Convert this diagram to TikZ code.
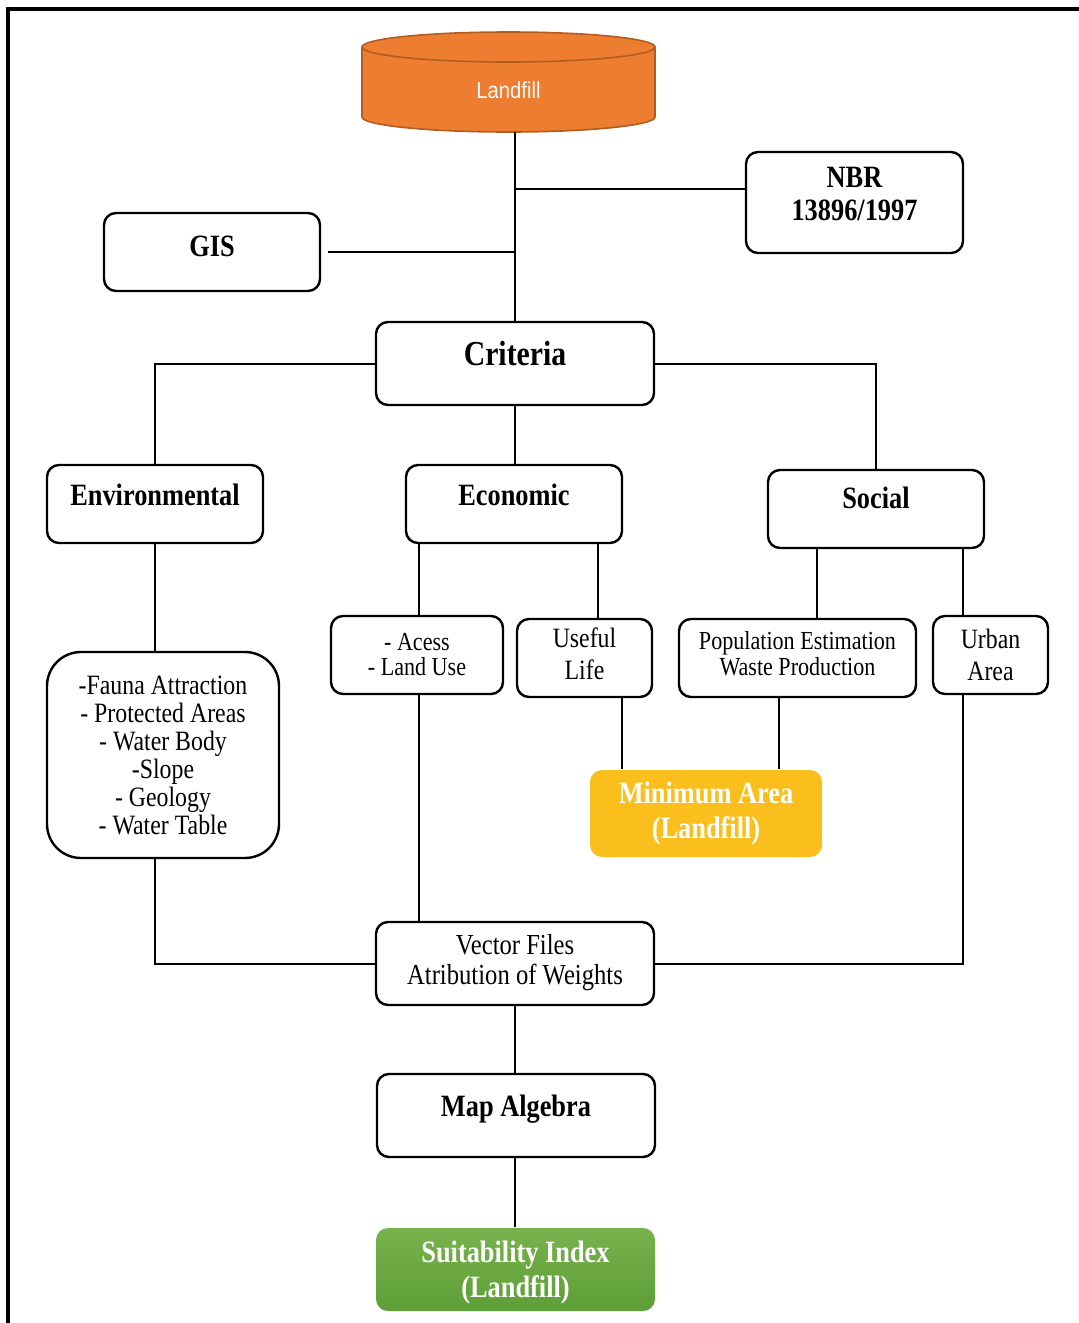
\documentclass[tikz,border=0pt]{standalone}
\usepackage{fontspec}
\setmainfont{Liberation Serif}[FakeStretch=0.85]
\newfontfamily\lfsans{Liberation Sans}[FakeStretch=0.88]
\usetikzlibrary{calc}
\definecolor{lforange}{HTML}{ED7D31}
\definecolor{lforangedk}{HTML}{B35C20}
\definecolor{minyellow}{HTML}{FBBF1D}
\definecolor{suitgreenA}{HTML}{78B24C}
\definecolor{suitgreenB}{HTML}{5E9E37}
\tikzset{
  box/.style={draw=black, line width=1.2pt, rounded corners=6pt, inner sep=0pt, align=center},
  hdr/.style={font=\fontsize{15.5}{16.5}\selectfont\bfseries},
  conn/.style={draw=black, line width=1pt},
  up/.style={text depth=#1},
}
\begin{document}
\begin{tikzpicture}[x=0.5pt, y=-0.5pt]
\useasboundingbox (0,0) rectangle (1079,1323);
% frame
\draw[line width=1.6pt] (8,1323) -- (8,9) -- (1079,9);

% landfill cylinder
\fill[lforange] (362,47) -- (362,117) arc[start angle=180, end angle=0, x radius=146.5, y radius=15] -- (655,47) -- cycle;
\fill[lforange] (508.5,47) ellipse[x radius=146.5, y radius=15];
\draw[lforangedk, line width=0.8pt] (362,47) -- (362,117) arc[start angle=180, end angle=0, x radius=146.5, y radius=15] -- (655,47);
\draw[lforangedk, line width=0.8pt] (508.5,47) ellipse[x radius=146.5, y radius=15];
\node[text=white, font=\lfsans\fontsize{11.5}{12}\selectfont] (landfill) at (508.5,90) {Landfill};
\coordinate (lfbot) at (514,132);

% boxes
\node[box, hdr, minimum width=108pt, minimum height=39pt, up=6pt] (gis) at (212,252) {GIS};
\node[box, hdr, minimum width=108.5pt, minimum height=50.5pt, up=9pt] (nbr) at (854.5,202.5) {NBR\\13896/1997};
\node[box, font=\fontsize{17.5}{18}\selectfont\bfseries, minimum width=139pt, minimum height=41.5pt, up=10pt] (crit) at (515,363.5) {Criteria};
\node[box, hdr, minimum width=108pt, minimum height=39pt, up=9pt] (env) at (155,504) {Environmental};
\node[box, hdr, minimum width=108pt, minimum height=39pt, up=9pt] (econ) at (514,504) {Economic};
\node[box, hdr, minimum width=108pt, minimum height=39pt, up=11pt] (soc) at (876,509) {Social};
\node[box, rounded corners=17pt, font=\fontsize{14}{14}\selectfont, minimum width=116pt, minimum height=103pt] (fauna) at (163,755)
  {-Fauna Attraction\\- Protected Areas\\- Water Body\\-Slope\\- Geology\\- Water Table};
\node[box, font=\fontsize{13}{12.5}\selectfont, minimum width=86pt, minimum height=39pt] (acess) at (417,655) {- Acess\\- Land Use};
\node[box, font=\fontsize{14}{16}\selectfont, minimum width=67.5pt, minimum height=39pt, up=4pt] (useful) at (584.5,658) {Useful\\Life};
\node[box, font=\fontsize{13}{13}\selectfont, minimum width=118.5pt, minimum height=39pt, up=5pt] (pop) at (797.5,658) {Population Estimation\\Waste Production};
\node[box, font=\fontsize{14}{16}\selectfont, minimum width=57.5pt, minimum height=39pt] (urban) at (990.5,655) {Urban\\Area};
\node[box, draw=none, fill=minyellow, text=white, font=\fontsize{15.5}{17.5}\selectfont\bfseries, minimum width=116pt, minimum height=43.5pt, up=3pt] (minarea) at (706,813.5) {Minimum Area\\(Landfill)};
\node[box, font=\fontsize{14.5}{15}\selectfont, minimum width=139pt, minimum height=41.5pt, up=4.5pt] (vec) at (515,963.5) {Vector Files\\Atribution of Weights};
\node[box, hdr, minimum width=139pt, minimum height=41.5pt, up=9.5pt] (map) at (516,1115.5) {Map Algebra};
\node[box, draw=none, top color=suitgreenA, bottom color=suitgreenB, text=white, font=\fontsize{15.5}{17.5}\selectfont\bfseries, minimum width=139.5pt, minimum height=41.5pt, up=0pt] (suit) at (515.5,1269.5) {Suitability Index\\(Landfill)};

% connectors
\path[conn] (crit.north) -- (crit.north |- lfbot);
\coordinate (nbrj) at ([yshift=7pt]nbr.west);
\path[conn] (nbrj) -- (nbrj -| crit.north);
\coordinate (gisj) at ([xshift=3.5pt]gis.east);
\path[conn] (gisj) -- (gisj -| crit.north);
\path[conn] (crit.west) -| (env.north);
\path[conn] (crit.east) -| (soc.north);
\path[conn] (crit.south) -- (crit.south |- econ.north);
\path[conn] (env.south) -- (env.south |- fauna.north);
\coordinate (acesstop) at ([xshift=1pt]acess.north);
\path[conn] (acesstop) -- (acesstop |- econ.south);
\coordinate (usefultop) at ([xshift=6.75pt]useful.north);
\path[conn] (usefultop) -- (usefultop |- econ.south);
\coordinate (poptop) at ([xshift=9.75pt]pop.north);
\path[conn] (poptop) -- (poptop |- soc.south);
\coordinate (urbantop) at ([xshift=-13.75pt]urban.north);
\path[conn] (urbantop) -- (urbantop |- soc.south);
\coordinate (usefulbot) at ([xshift=18.75pt]useful.south);
\path[conn] (usefulbot) -- (usefulbot |- minarea.north);
\coordinate (popbot) at ([xshift=-9.25pt]pop.south);
\path[conn] (popbot) -- (popbot |- minarea.north);
\coordinate (faunabot) at (env.south |- fauna.south);
\path[conn] (faunabot) |- (vec.west);
\coordinate (acessbot) at ([xshift=1pt]acess.south);
\path[conn] (acessbot) -- (acessbot |- vec.north);
\coordinate (urbanbot) at ([xshift=-13.75pt]urban.south);
\path[conn] (urbanbot) |- (vec.east);
\path[conn] (vec.south) -- (vec.south |- map.north);
\path[conn] (vec.south |- map.south) -- (vec.south |- suit.north);
\end{tikzpicture}
\end{document}
